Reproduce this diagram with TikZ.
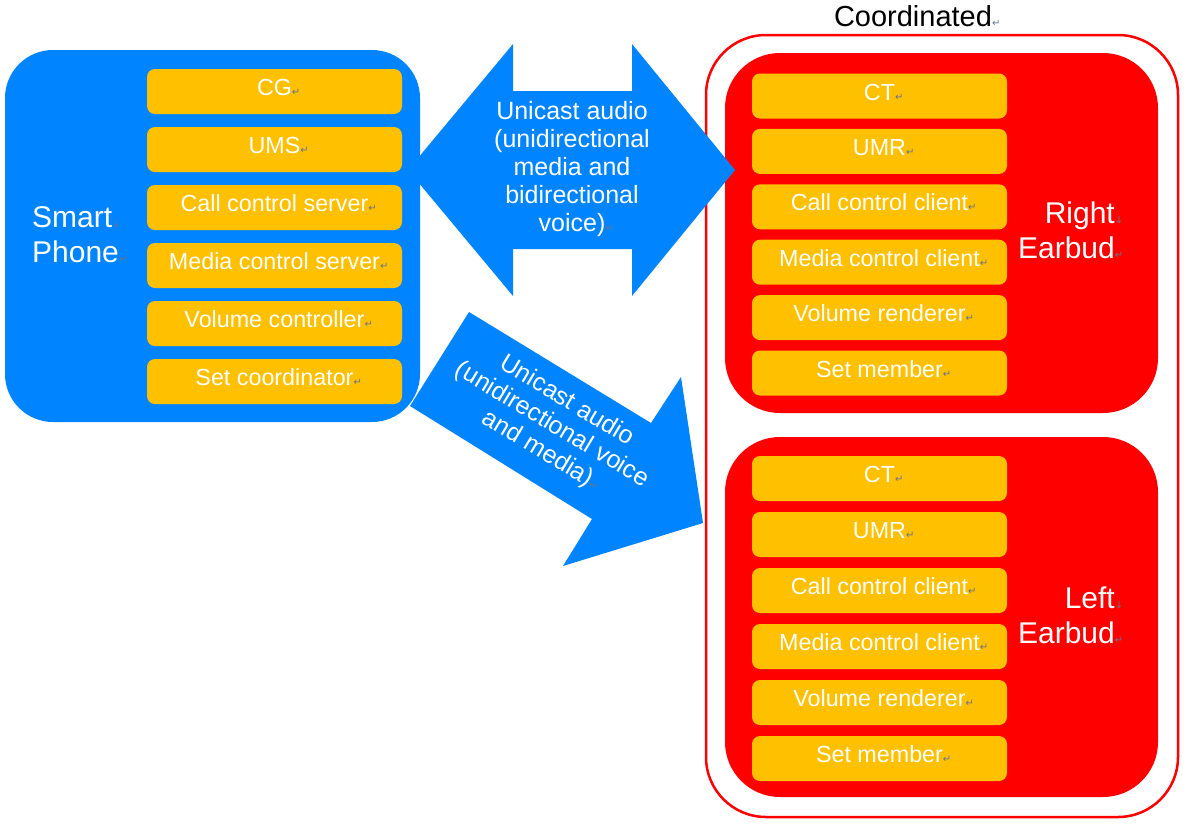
\documentclass[tikz,border=0pt]{standalone}
\usepackage{fontspec}
\setmainfont{Liberation Sans}
\newfontfamily\markfont{DejaVu Sans}
\usepackage{xcolor}
\usetikzlibrary{positioning}

\definecolor{phoneblue}{RGB}{0,132,255}
\definecolor{budred}{RGB}{255,0,0}
\definecolor{funcgold}{RGB}{255,192,0}
\definecolor{markgray}{RGB}{105,115,140}
\newcommand{\retmark}{\rlap{\textcolor{markgray}{\markfont\fontsize{10}{10}\selectfont ↵}}}
\newcommand{\brmark}{\rlap{\textcolor{markgray}{\markfont\fontsize{10}{10}\selectfont ↓}}}

\begin{document}
\begin{tikzpicture}[x=1pt,y=-1pt,on grid]
    \tikzstyle{device}=[shape=rectangle,rounded corners=55pt,fill=budred,minimum width=433pt,minimum height=360pt]
    \tikzstyle{role}=[shape=rectangle,rounded corners=8pt,fill=funcgold,text=white,minimum width=255pt,minimum height=45pt,text height=17pt,text depth=9pt,font=\fontsize{23.3}{27}\selectfont]
    \tikzstyle{bigtext}=[text=white,inner sep=0pt,font=\fontsize{30}{35}\selectfont]
    \tikzstyle{flowtext}=[text=white,align=center,inner sep=0pt,font=\fontsize{25}{28}\selectfont]

    \useasboundingbox (0,0) rectangle (1200,825);

    % smart phone
    \node[shape=rectangle,rounded corners=48pt,fill=phoneblue,minimum width=415pt,minimum height=372pt] (phone) at (212.5,236) {};
    \node[bigtext,align=left,anchor=west] (phonelabel) at (32,235) {Smart\brmark\\Phone\retmark};
    \node[role] (cg) at (274.5,91.5) {CG\retmark};
    \node[role,below=58pt of cg] (ums) {UMS\retmark};
    \node[role,below=58pt of ums] (ccs) {Call control server\retmark};
    \node[role,below=58pt of ccs] (mcs) {Media control server\retmark};
    \node[role,below=58pt of mcs] (vc) {Volume controller\retmark};
    \node[role,below=58pt of vc] (sc) {Set coordinator\retmark};

    % coordinated set
    \node[shape=rectangle,draw=budred,line width=2.5pt,rounded corners=60pt,minimum width=472pt,minimum height=782pt] (coordset) at (942,426) {};
    \node[font=\fontsize{29}{34}\selectfont] (coordlabel) at (913,16) {Coordinated\retmark};

    % right earbud
    \node[device] (right) at (941.5,233) {};
    \node[bigtext,align=right,anchor=east] (rightlabel) at (1115,230) {Right\brmark\\Earbud\retmark};
    \node[role] (rct) at (879.5,96) {CT\retmark};
    \node[role,below=55.4pt of rct] (rumr) {UMR\retmark};
    \node[role,below=55.4pt of rumr] (rccc) {Call control client\retmark};
    \node[role,below=55.4pt of rccc] (rmcc) {Media control client\retmark};
    \node[role,below=55.4pt of rmcc] (rvr) {Volume renderer\retmark};
    \node[role,below=55.4pt of rvr] (rsm) {Set member\retmark};

    % left earbud
    \node[device] (left) at (941.5,617) {};
    \node[bigtext,align=right,anchor=east] (leftlabel) at (1115,615.5) {Left\brmark\\Earbud\retmark};
    \node[role] (lct) at (879.5,478.5) {CT\retmark};
    \node[role,below=56pt of lct] (lumr) {UMR\retmark};
    \node[role,below=56pt of lumr] (lccc) {Call control client\retmark};
    \node[role,below=56pt of lccc] (lmcc) {Media control client\retmark};
    \node[role,below=56pt of lmcc] (lvr) {Volume renderer\retmark};
    \node[role,below=56pt of lvr] (lsm) {Set member\retmark};

    % block arrows
    \fill[phoneblue] (408,170) -- (513,44) -- (513,91) -- (632,91) -- (632,44) -- (735,170)
        -- (632,296) -- (632,249) -- (513,249) -- (513,296) -- cycle;
    \node[flowtext] (duplex) at (572,169) {Unicast audio\\(unidirectional\\media and\\bidirectional\\voice)\retmark};

    \fill[phoneblue] (469,312) -- (651,423) -- (681,377) -- (703,523) -- (563,566) -- (592,519) -- (410,406) -- cycle;
    \node[flowtext,rotate=-31] (simplex) at (552,425) {Unicast audio\\(unidirectional voice\\and media)\retmark};
\end{tikzpicture}
\end{document}
